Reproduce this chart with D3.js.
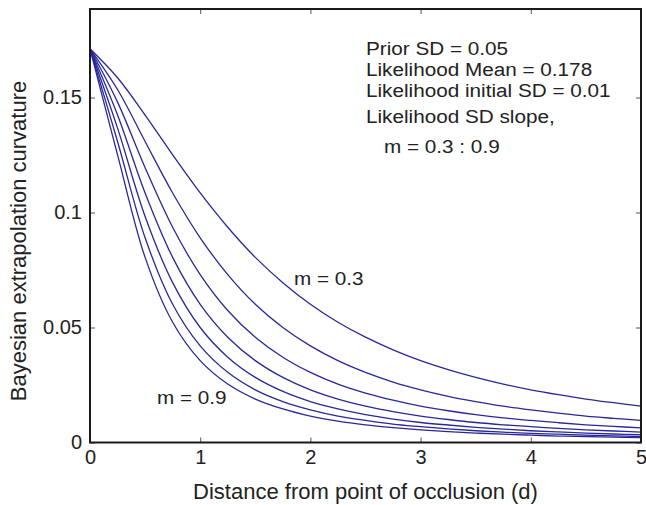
<!DOCTYPE html>
<html>
<head>
<meta charset="utf-8">
<script src="https://cdn.jsdelivr.net/npm/d3@7/dist/d3.min.js"></script>
<style>
  body { margin: 0; background: #fff; }
  svg { display: block; }
  text { font-family: "Liberation Sans", Arial, Helvetica, sans-serif; fill: #222; }
</style>
</head>
<body>
<svg id="chart" width="646" height="505"></svg>
<script>
// ---- data ----
const distances = [0, 0.25, 0.5, 0.75, 1, 1.25, 1.5, 1.75, 2, 2.25, 2.5, 2.75, 3, 3.25, 3.5, 3.75, 4, 4.25, 4.5, 4.75, 5];
const slopes = [0.3, 0.4, 0.5, 0.6, 0.7, 0.8, 0.9];
const curveM03 = [0.1712, 0.1586, 0.1424, 0.1251, 0.1085, 0.0936, 0.0805, 0.0695, 0.0601, 0.0523, 0.0458, 0.0403, 0.0356, 0.0317, 0.0283, 0.0254, 0.0229, 0.0208, 0.0189, 0.0173, 0.0158];
const curveM04 = [0.1712, 0.1535, 0.1309, 0.1085, 0.0890, 0.0730, 0.0601, 0.0500, 0.0420, 0.0356, 0.0305, 0.0263, 0.0229, 0.0201, 0.0178, 0.0158, 0.0142, 0.0128, 0.0115, 0.0105, 0.0096];
const curveM05 = [0.1712, 0.1480, 0.1195, 0.0936, 0.0730, 0.0574, 0.0458, 0.0371, 0.0305, 0.0254, 0.0215, 0.0184, 0.0158, 0.0138, 0.0121, 0.0107, 0.0096, 0.0086, 0.0077, 0.0070, 0.0064];
const curveM06 = [0.1712, 0.1424, 0.1085, 0.0805, 0.0601, 0.0458, 0.0356, 0.0283, 0.0229, 0.0189, 0.0158, 0.0134, 0.0115, 0.0100, 0.0087, 0.0077, 0.0069, 0.0061, 0.0055, 0.0050, 0.0045];
const curveM07 = [0.1712, 0.1367, 0.0983, 0.0695, 0.0500, 0.0371, 0.0283, 0.0222, 0.0178, 0.0146, 0.0121, 0.0102, 0.0087, 0.0076, 0.0066, 0.0058, 0.0051, 0.0046, 0.0041, 0.0037, 0.0034];
const curveM08 = [0.1712, 0.1309, 0.0890, 0.0601, 0.0420, 0.0305, 0.0229, 0.0178, 0.0142, 0.0115, 0.0096, 0.0080, 0.0069, 0.0059, 0.0051, 0.0045, 0.0040, 0.0036, 0.0032, 0.0029, 0.0026];
const curveM09 = [0.1712, 0.1251, 0.0805, 0.0523, 0.0356, 0.0254, 0.0189, 0.0146, 0.0115, 0.0093, 0.0077, 0.0065, 0.0055, 0.0047, 0.0041, 0.0036, 0.0032, 0.0028, 0.0026, 0.0023, 0.0021];
const seriesValues = [curveM03, curveM04, curveM05, curveM06, curveM07, curveM08, curveM09];
const xTicks = [0, 1, 2, 3, 4, 5];
const yTicks = [0, 0.05, 0.1, 0.15];
const yTickLabels = ["0", "0.05", "0.1", "0.15"];
const annotationLines = ["Prior SD = 0.05", "Likelihood Mean = 0.178", "Likelihood initial SD = 0.01"];
const slopeLines = ["Likelihood SD slope,", "m = 0.3 : 0.9"];

// ---- layout ----
const pL = 90, pR = 641, pT = 9, pB = 442.5;
const svg = d3.select("#chart");
const x = d3.scaleLinear().domain([0, 5]).range([pL, pR]);
const y = d3.scaleLinear().domain([0, 0.1885]).range([pB, pT]);
const tickFs = 20, labelFs = 22, annFs = 18, annStretch = 1.15;
const tickLen = 5;

// curves
const line = d3.line()
  .x((d, i) => x(distances[i]))
  .y(d => y(d))
  .curve(d3.curveCatmullRom.alpha(0.5));
svg.append("g").selectAll("path").data(seriesValues).join("path")
  .attr("d", d => line(d))
  .attr("fill", "none")
  .attr("stroke", "#28289a")
  .attr("stroke-width", 1.3);

// axes with inward ticks
const axB = d3.axisBottom(x).tickValues(xTicks).tickSize(-tickLen).tickPadding(7).tickFormat(d3.format("d"));
const axT = d3.axisTop(x).tickValues(xTicks).tickSize(-tickLen).tickFormat("");
const axL = d3.axisLeft(y).tickValues(yTicks).tickSize(-tickLen).tickPadding(8).tickFormat((d, i) => yTickLabels[i]);
const axR = d3.axisRight(y).tickValues(yTicks).tickSize(-tickLen).tickFormat("");

function styleAxis(g) {
  g.select(".domain").remove();
  g.selectAll(".tick line").attr("stroke", "#555").attr("stroke-width", 1);
  g.selectAll(".tick text").attr("font-size", tickFs).attr("fill", "#222")
    .attr("font-family", '"Liberation Sans", Arial, sans-serif');
}
svg.append("g").attr("transform", `translate(0,${pB})`).call(axB).call(styleAxis);
svg.append("g").attr("transform", `translate(0,${pT})`).call(axT).call(styleAxis);
svg.append("g").attr("transform", `translate(${pL},0)`).call(axL).call(styleAxis);
svg.append("g").attr("transform", `translate(${pR},0)`).call(axR).call(styleAxis);

// box
svg.append("rect")
  .attr("x", pL).attr("y", pT)
  .attr("width", pR - pL).attr("height", pB - pT)
  .attr("fill", "none").attr("stroke", "#1a1a1a").attr("stroke-width", 2);

// axis labels
svg.append("text")
  .attr("x", (pL + pR) / 2).attr("y", 499)
  .attr("text-anchor", "middle").attr("font-size", labelFs)
  .text("Distance from point of occlusion (d)");
svg.append("text")
  .attr("transform", `translate(26,241) rotate(-90)`)
  .attr("text-anchor", "middle").attr("font-size", labelFs)
  .text("Bayesian extrapolation curvature");

// annotations (slightly wide lettering as in the reference)
const ann = svg.append("g").attr("class", "ann");
annotationLines.forEach((t, i) => {
  ann.append("text").attr("x", 366).attr("y", 55 + i * 20.8).text(t);
});
ann.append("text").attr("x", 366).attr("y", 123).text(slopeLines[0]);
ann.append("text").attr("x", 384).attr("y", 152.5).text(slopeLines[1]);
ann.append("text").attr("x", 294).attr("y", 285).text("m = " + slopes[0]);
ann.append("text").attr("x", 157).attr("y", 403.5).text("m = " + slopes[slopes.length - 1]);
ann.selectAll("text").attr("font-size", annFs).each(function () {
  const w = this.getComputedTextLength();
  d3.select(this).attr("textLength", w * annStretch).attr("lengthAdjust", "spacingAndGlyphs");
});
</script>
</body>
</html>
